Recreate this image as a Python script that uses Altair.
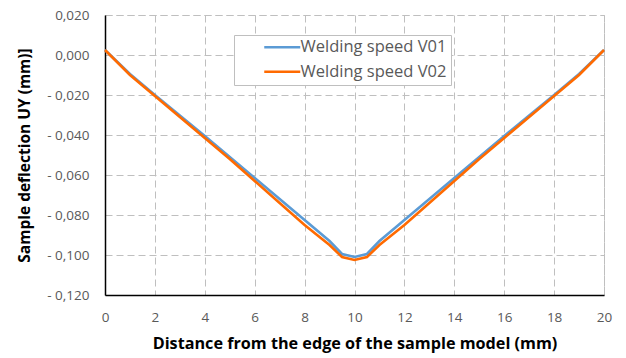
import altair as alt
import pandas as pd

# Distance along the sample (mm)
distance = [0, 1, 2, 3, 4, 5, 6, 7, 8, 9, 9.5, 10, 10.5, 11, 12, 13, 14, 15, 16, 17, 18, 19, 20]

# Vertical deflection UY (mm) for the two welding speeds
uy_v01 = [0.0025, -0.0095, -0.0200, -0.0302, -0.0405, -0.0510, -0.0615, -0.0720, -0.0825,
          -0.0930, -0.0995, -0.1010, -0.0995, -0.0930, -0.0825, -0.0720, -0.0615, -0.0510,
          -0.0405, -0.0302, -0.0200, -0.0095, 0.0025]
uy_v02 = [0.0025, -0.0100, -0.0205, -0.0310, -0.0415, -0.0520, -0.0630, -0.0740, -0.0850,
          -0.0950, -0.1010, -0.1025, -0.1010, -0.0950, -0.0850, -0.0740, -0.0630, -0.0520,
          -0.0415, -0.0310, -0.0205, -0.0100, 0.0025]

series_names = ["Welding speed V01", "Welding speed V02"]
series_colors = ["#5B9BD5", "#FF6A00"]

x_ticks = list(range(0, 21, 2))
y_ticks = [0.02, 0.0, -0.02, -0.04, -0.06, -0.08, -0.10, -0.12]

rows = []
for name, values in zip(series_names, [uy_v01, uy_v02]):
    for d, v in zip(distance, values):
        rows.append({"distance": d, "uy": v, "series": name})
df = pd.DataFrame(rows)

FONT = "Open Sans"
GREY_TEXT = "#595959"
GRID = "#BFBFBF"

# Comma decimal separator, with a spaced minus sign for negative values
y_label = ("datum.value < 0 ? '- ' + replace(format(abs(datum.value), '.3f'), '.', ',')"
           " : replace(format(datum.value, '.3f'), '.', ',')")

chart = alt.Chart(df).mark_line(strokeWidth=2.6, interpolate="linear").encode(
    x=alt.X(
        "distance:Q",
        scale=alt.Scale(domain=[0, 20], nice=False, zero=False),
        axis=alt.Axis(
            title="Distance from the edge of the sample model (mm)",
            values=x_ticks,
            format="d",
            labelFontSize=13.5,
            labelColor=GREY_TEXT,
            labelPadding=15,
            labelFont=FONT,
            labelFlush=False,
            ticks=False,
            domainColor="#000000",
            domainWidth=1.5,
            titleFont=FONT,
            titleFontSize=16.2,
            titleFontWeight="bold",
            titleColor="#000000",
            titlePadding=12,
            grid=True,
            gridColor=GRID,
            gridDash=[7, 4],
            gridWidth=1,
        ),
    ),
    y=alt.Y(
        "uy:Q",
        scale=alt.Scale(domain=[-0.12, 0.02], nice=False, zero=False),
        axis=alt.Axis(
            title="Sample deflection UY (mm)]",
            values=y_ticks,
            labelExpr=y_label,
            labelFontSize=13.5,
            labelColor=GREY_TEXT,
            labelPadding=16,
            labelFont=FONT,
            labelFlush=False,
            ticks=False,
            domainColor="#000000",
            domainWidth=1.5,
            titleFont=FONT,
            titleFontSize=15.5,
            titleFontWeight="bold",
            titleColor="#000000",
            titlePadding=14,
            grid=True,
            gridColor=GRID,
            gridDash=[7, 4],
            gridWidth=1,
        ),
    ),
    color=alt.Color(
        "series:N",
        scale=alt.Scale(domain=series_names, range=series_colors),
        legend=alt.Legend(
            title=None,
            orient="none",
            legendX=129,
            legendY=20,
            symbolType="M-3,0H3",
            symbolSize=144,
            symbolStrokeWidth=2.6,
            symbolOffset=36,
            labelFont=FONT,
            labelFontSize=16.5,
            labelColor=GREY_TEXT,
            labelOffset=10,
            labelExpr="datum.label + '" + "\u00a0" * 12 + "'",
            rowPadding=7.5,
            padding=4,
            fillColor="#FFFFFF",
            strokeColor=GRID,
            cornerRadius=0,
        ),
    ),
).properties(
    width=499,
    height=280,
    autosize=alt.AutoSizeParams(type="none"),
    padding={"left": 105, "top": 15, "right": 22, "bottom": 63},
    background="#FFFFFF",
).configure_view(stroke=GRID, strokeDash=[7, 4], strokeWidth=1)

chart.save("out.html", embed_options={"renderer": "svg", "actions": False})
